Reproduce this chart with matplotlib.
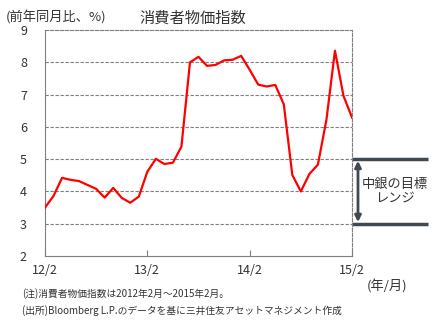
import numpy as np
import matplotlib
matplotlib.use("Agg")
import matplotlib.pyplot as plt

plt.rcParams["font.family"] = ["Noto Sans CJK JP", "DejaVu Sans"]

# ─── Data ─────────────────────────────────────────────────────────────────────
months = np.arange(37)  # 2012/2 .. 2015/2
cpi = [3.50, 3.86, 4.42, 4.36, 4.32, 4.20, 4.08, 3.81, 4.11, 3.80, 3.65, 3.84,
       4.61, 5.01, 4.85, 4.89, 5.39, 8.00, 8.17, 7.89, 7.92, 8.06, 8.08, 8.20,
       7.77, 7.31, 7.25, 7.30, 6.70, 4.51, 4.00, 4.54, 4.83, 6.22, 8.36, 6.96,
       6.29]
xtick_pos = [0, 12, 24, 36]
xtick_labels = ["12/2", "13/2", "14/2", "15/2"]
yticks = [2, 3, 4, 5, 6, 7, 8, 9]
target_lo, target_hi = 3, 5

GRAY = "#7f7f7f"
BAND = "#404850"
TXT = "#333333"

fig = plt.figure(figsize=(4.38, 3.23), dpi=100)
ax = fig.add_axes([0.1027, 0.2074, 0.701, 0.6996])

ax.plot(months, cpi, color="#ff0000", lw=1.6, zorder=3)

ax.set_xlim(0, 36)
ax.set_ylim(2, 9)
ax.set_yticks(yticks)
ax.set_xticks(xtick_pos)
ax.set_xticklabels(xtick_labels)
ax.tick_params(axis="y", length=0, labelsize=9, pad=13, colors=TXT)
ax.tick_params(axis="x", direction="in", length=4, color=GRAY,
               labelsize=9, pad=6, labelcolor=TXT)

for y in yticks[1:-1]:
    ax.axhline(y, color=GRAY, lw=0.8, ls=(0, (3, 1.5)), zorder=1)
for s in ax.spines.values():
    s.set_color(GRAY)
    s.set_linewidth(0.8)
    s.set_linestyle((0, (3, 1.5)))
ax.spines["left"].set_linestyle("-")
ax.spines["bottom"].set_linestyle("-")

# target range bars and arrow
for y in (target_lo, target_hi):
    ax.plot([36, 44.9], [y, y], color=BAND, lw=2.5, clip_on=False, solid_capstyle="butt")
ax.annotate("", xy=(36.7, target_lo + 0.05), xytext=(36.7, target_hi - 0.05),
            arrowprops=dict(arrowstyle="<|-|>", color=BAND, lw=2,
                            mutation_scale=9, shrinkA=0, shrinkB=0),
            annotation_clip=False)
ax.text(41.0, 4.0, "中銀の目標\nレンジ", ha="center", va="center",
        fontsize=9.5, color=TXT, linespacing=1.1)

fig.text(0.012, 0.945, "(前年同月比、%)", fontsize=9.5, color=TXT, va="center")
fig.text(0.318, 0.945, "消費者物価指数", fontsize=11, color=TXT, va="center")
fig.text(0.838, 0.113, "(年/月)", fontsize=9.5, color=TXT, va="center")
fig.text(0.050, 0.092, "(注)消費者物価指数は2012年2月～2015年2月。", fontsize=7,
         color=TXT, va="center")
fig.text(0.050, 0.040, "(出所)Bloomberg L.P.のデータを基に三井住友アセットマネジメント作成",
         fontsize=7, color=TXT, va="center")

fig.savefig("out.png", dpi=100)
